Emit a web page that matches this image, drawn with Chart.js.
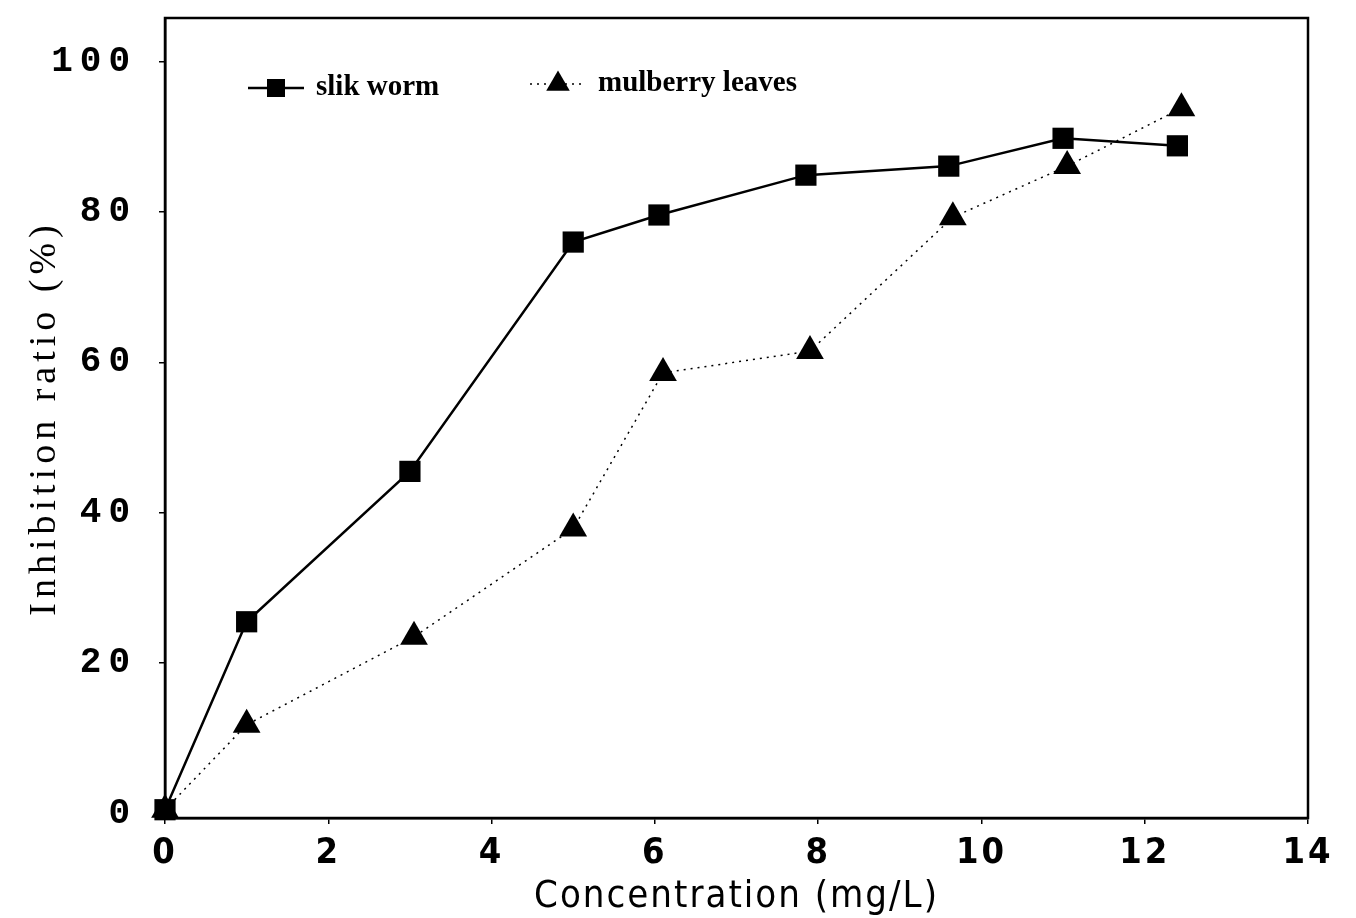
<!DOCTYPE html>
<html>
<head>
    <title>Inhibition ratio</title>
    <script src="https://cdn.jsdelivr.net/npm/chart.js@4.4.0/dist/chart.umd.min.js"></script>
    <style>
        body { margin: 0; background: #fff; }
    </style>
</head>
<body>
    <canvas id="lineChart" width="1356" height="918"></canvas>
<script>
    // values
    var seriesNames = ['slik worm', 'mulberry leaves'];
    var concSilk = [0, 1.0, 3.0, 5.0, 6.05, 7.85, 9.6, 11.0, 12.4];
    var silkWorm = [0.5, 25.5, 45.5, 76.0, 79.6, 84.9, 86.1, 89.8, 88.8];
    var concLeaves = [0, 1.0, 3.05, 5.0, 6.1, 7.9, 9.65, 11.05, 12.45];
    var mulberryLeaves = [0.5, 11.8, 23.5, 37.9, 58.6, 61.5, 79.3, 86.1, 93.8];
    var xTicks = [0, 2, 4, 6, 8, 10, 12, 14];
    var yTicks = [0, 20, 40, 60, 80, 100];

    function toPoints(xs, ys) {
        var pts = [];
        for (var i = 0; i < xs.length; i++) pts.push({x: xs[i], y: ys[i]});
        return pts;
    }

    // letter spacing for one scale method (titles / labels)
    function spaced(scale, method, px) {
        if (scale['_sp_' + method]) return;
        var orig = scale[method];
        scale[method] = function () {
            var c = this.ctx;
            c.save();
            c.letterSpacing = px;
            orig.apply(this, arguments);
            c.restore();
        };
        scale['_sp_' + method] = true;
    }

    var spacingPlugin = {
        id: 'spacing',
        beforeDraw: function (chart) {
            spaced(chart.scales.y, 'drawTitle', '5px');
            spaced(chart.scales.y, 'drawLabels', '7px');
            spaced(chart.scales.x, 'drawTitle', '2px');
            spaced(chart.scales.x, 'drawLabels', '3px');
        }
    };

    var framePlugin = {
        id: 'frame',
        afterDraw: function (chart) {
            var ctx = chart.ctx, a = chart.chartArea;
            ctx.save();
            ctx.strokeStyle = '#000';
            ctx.lineWidth = 2.5;
            ctx.strokeRect(a.left, a.top, a.right - a.left, a.bottom - a.top);
            ctx.restore();
        }
    };

    var legendPlugin = {
        id: 'insideLegend',
        afterDatasetsDraw: function (chart) {
            var ctx = chart.ctx, a = chart.chartArea;
            var spots = [{x: a.left + 83, y: a.top + 70}, {x: a.left + 365, y: a.top + 66}];
            chart.data.datasets.forEach(function (ds, i) {
                var p = spots[i];
                ctx.save();
                ctx.strokeStyle = '#000';
                ctx.fillStyle = '#000';
                ctx.lineWidth = ds.borderWidth;
                ctx.setLineDash(ds.borderDash || []);
                ctx.beginPath();
                ctx.moveTo(p.x, p.y);
                ctx.lineTo(p.x + 56, p.y);
                ctx.stroke();
                ctx.setLineDash([]);
                Chart.helpers.drawPoint(ctx, {pointStyle: ds.pointStyle, radius: ds.pointRadius * 0.85, borderWidth: 0, rotation: 0}, p.x + 28, p.y);
                ctx.font = 'bold 29px "Liberation Serif"';
                ctx.textBaseline = 'middle';
                ctx.textAlign = 'left';
                ctx.fillText(ds.label, p.x + 68, p.y);
                ctx.restore();
            });
        }
    };

    var ctxL = document.getElementById('lineChart').getContext('2d');
    var myLineChart = new Chart(ctxL, {
        type: 'line',
        data: {
            datasets: [{
                label: seriesNames[0],
                data: toPoints(concSilk, silkWorm),
                borderColor: '#000',
                backgroundColor: '#000',
                borderWidth: 2.5,
                pointStyle: 'rect',
                pointRadius: 15,
                pointBorderWidth: 0,
                clip: false
            }, {
                label: seriesNames[1],
                data: toPoints(concLeaves, mulberryLeaves),
                borderColor: '#000',
                backgroundColor: '#000',
                borderWidth: 1.5,
                borderDash: [2, 5],
                pointStyle: 'triangle',
                pointRadius: 16,
                pointBorderWidth: 0,
                clip: false
            }]
        },
        options: {
            responsive: false,
            animation: false,
            layout: {padding: {left: 0, right: 48, top: 18, bottom: 0}},
            plugins: {legend: {display: false}, tooltip: {enabled: false}},
            scales: {
                x: {
                    type: 'linear',
                    min: 0,
                    max: 14,
                    afterBuildTicks: function (s) { s.ticks = xTicks.map(function (v) { return {value: v}; }); },
                    afterFit: function (s) { s.height = 100; s.paddingLeft = 0; s.paddingRight = 0; },
                    grid: {drawOnChartArea: false, tickLength: 6, color: '#000', lineWidth: 1.5},
                    border: {color: '#000', width: 2.5},
                    ticks: {padding: 8, color: '#000', maxRotation: 0, font: {family: '"Liberation Sans Narrow", "DejaVu Sans Condensed"', size: 36, weight: 'bold'}},
                    title: {display: true, text: 'Concentration (mg/L)', color: '#000', padding: {top: 0, bottom: -2},
                        font: {family: '"Liberation Sans Narrow", "DejaVu Sans Condensed"', size: 38}}
                },
                y: {
                    min: -0.6,
                    max: 105.8,
                    afterBuildTicks: function (s) { s.ticks = yTicks.map(function (v) { return {value: v}; }); },
                    afterFit: function (s) { s.width = 165; s.paddingTop = 0; s.paddingBottom = 0; },
                    grid: {drawOnChartArea: false, tickLength: 6, color: '#000', lineWidth: 1.5},
                    border: {color: '#000', width: 2.5},
                    ticks: {padding: 22, color: '#000', font: {family: '"Liberation Mono"', size: 36, weight: 'bold'}},
                    title: {display: true, text: 'Inhibition ratio (%)', color: '#000', padding: {top: 22, bottom: 0},
                        font: {family: '"Liberation Serif"', size: 38}}
                }
            }
        },
        plugins: [spacingPlugin, framePlugin, legendPlugin]
    });
</script>
</body>
</html>
